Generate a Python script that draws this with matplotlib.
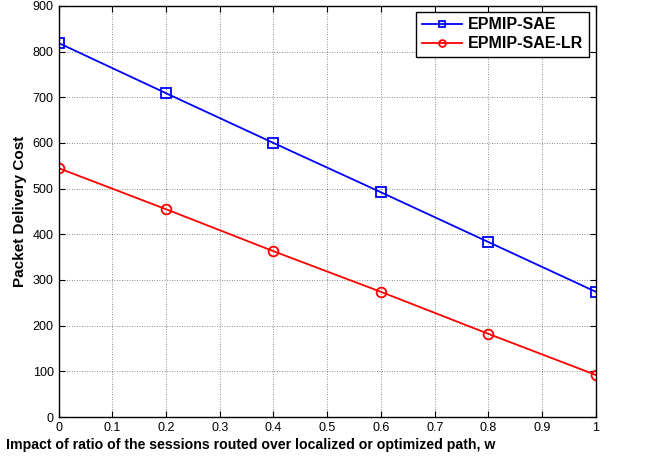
import matplotlib
matplotlib.use("Agg")
import matplotlib.pyplot as plt

# data
w = [0, 0.2, 0.4, 0.6, 0.8, 1.0]
cost_sae = [819, 709, 600, 492, 383, 274]
cost_sae_lr = [545, 455, 363, 274, 182, 92]

x_ticks = [0, 0.1, 0.2, 0.3, 0.4, 0.5, 0.6, 0.7, 0.8, 0.9, 1]
x_tick_labels = ["0", "0.1", "0.2", "0.3", "0.4", "0.5", "0.6", "0.7", "0.8", "0.9", "1"]
y_ticks = [0, 100, 200, 300, 400, 500, 600, 700, 800, 900]

plt.rcParams["font.family"] = ["Liberation Sans", "DejaVu Sans"]

fig = plt.figure(figsize=(6.45, 4.58), dpi=100)
ax = fig.add_axes([0.0907, 0.0895, 0.8333, 0.8975])

ax.plot(w, cost_sae, color="blue", marker="s", markersize=7,
        markerfacecolor="none", markeredgewidth=1.3, linewidth=1.3,
        label="EPMIP-SAE")
ax.plot(w, cost_sae_lr, color="red", marker="o", markersize=7,
        markerfacecolor="none", markeredgewidth=1.3, linewidth=1.3,
        label="EPMIP-SAE-LR")

ax.set_xlim(0, 1)
ax.set_ylim(0, 900)
ax.set_xticks(x_ticks)
ax.set_xticklabels(x_tick_labels)
ax.set_yticks(y_ticks)

ax.tick_params(direction="in", top=True, right=True, labelsize=9, length=4)
ax.grid(True, color="black", linestyle=(0, (1, 2)), linewidth=0.6, alpha=0.6)
for s in ax.spines.values():
    s.set_linewidth(1.0)

ax.set_xlabel("Impact of ratio of the sessions routed over localized or optimized path, w",
              fontsize=10.2, fontweight="bold")
ax.xaxis.set_label_coords(0.358, -0.052)
ax.set_ylabel("Packet Delivery Cost", fontsize=11, fontweight="bold", labelpad=4)

leg = ax.legend(loc="upper right", bbox_to_anchor=(0.996, 0.998),
                prop={"weight": "bold", "size": 11.5},
                fancybox=False, edgecolor="black", framealpha=1,
                handlelength=2.5, handletextpad=0.4, markerscale=0.7,
                borderpad=0.35, labelspacing=0.25, borderaxespad=0.3)
leg.get_frame().set_linewidth(1.0)

plt.savefig("out.png", dpi=100)
